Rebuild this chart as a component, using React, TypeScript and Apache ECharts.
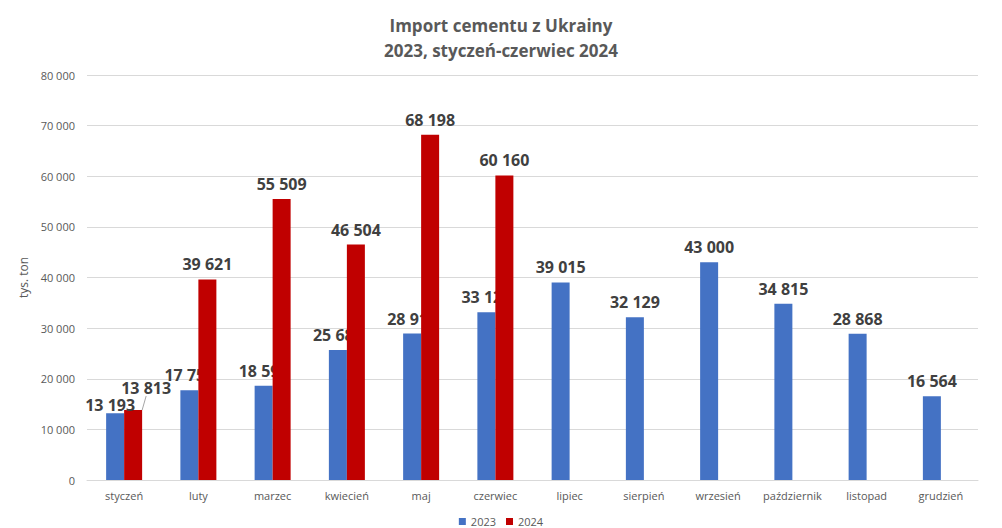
import React, { useEffect, useRef } from "react";
import * as echarts from "echarts";

const months = ["styczeń", "luty", "marzec", "kwiecień", "maj", "czerwiec", "lipiec", "sierpień", "wrzesień", "październik", "listopad", "grudzień"];
const values2023 = [13193, 17753, 18596, 25686, 28916, 33126, 39015, 32129, 43000, 34815, 28868, 16564];
const values2024: (number | null)[] = [13813, 39621, 55509, 46504, 68198, 60160, null, null, null, null, null, null];
const yTicks = { min: 0, max: 80000, interval: 10000 };

const fmt = (v: number) => String(Math.round(v)).replace(/\B(?=(\d{3})+(?!\d))/g, " ");

export default function App() {
  const ref = useRef<HTMLDivElement>(null);
  useEffect(() => {
    if (!ref.current) return;
    const chart = echarts.init(ref.current, null, { renderer: "svg" });
    const font = "'Open Sans', 'Liberation Sans', sans-serif";
    const labelStyle = {
      show: true,
      position: "top",
      distance: 7,
      fontSize: 16,
      fontWeight: "bold",
      color: "#404040",
      fontFamily: font,
    };
    chart.setOption({
      animation: false,
      textStyle: { fontFamily: font },
      title: {
        text: "Import cementu z Ukrainy\n2023, styczeń-czerwiec 2024",
        left: "center",
        top: 8,
        textStyle: { fontFamily: font, fontSize: 17, fontWeight: "bold", color: "#595959", lineHeight: 25 },
      },
      legend: {
        bottom: -4,
        left: "center",
        itemWidth: 7,
        itemHeight: 7,
        itemGap: 10,
        icon: "rect",
        textStyle: { fontFamily: font, fontSize: 11, color: "#595959" },
        data: ["2023", "2024"],
      },
      grid: { left: 87, right: 24, top: 75, bottom: 48 },
      xAxis: {
        type: "category",
        data: months,
        axisLine: { lineStyle: { color: "#d9d9d9" } },
        axisTick: { show: false },
        axisLabel: { color: "#595959", fontSize: 11, margin: 10, interval: 0, fontFamily: font },
      },
      yAxis: {
        type: "value",
        min: yTicks.min,
        max: yTicks.max,
        interval: yTicks.interval,
        name: "tys. ton",
        nameLocation: "middle",
        nameGap: 55,
        nameRotate: 90,
        nameTextStyle: { color: "#595959", fontSize: 12, fontFamily: font },
        axisLabel: { color: "#595959", fontSize: 11, margin: 12, formatter: (v: number) => fmt(v), fontFamily: font },
        splitLine: { lineStyle: { color: "#d9d9d9" } },
      },
      series: [
        {
          name: "2023",
          type: "bar",
          data: values2023,
          barWidth: 18,
          barGap: "0%",
          z: 2,
          itemStyle: { color: "#4472c4" },
          label: { ...labelStyle, formatter: (p: any) => (p.dataIndex === 0 ? "" : fmt(p.value)) },
        },
        {
          name: "2024",
          type: "bar",
          data: values2024.map((v, i) =>
            i === 0 ? { value: v, labelLine: { show: true, lineStyle: { color: "#a6a6a6", width: 1 } } } : v
          ),
          barWidth: 18,
          barGap: "0%",
          z: 3,
          itemStyle: { color: "#c00000" },
          label: { ...labelStyle, formatter: (p: any) => (p.value == null ? "" : fmt(p.value)) },
          labelLayout: (p: any) => (p.dataIndex === 0 ? { dx: 13, dy: -7 } : {}),
          labelLine: { show: false },
        },
        {
          name: "2023-label",
          type: "scatter",
          symbolSize: 0,
          z: 5,
          silent: true,
          itemStyle: { opacity: 1, color: "#4472c4" },
          data: [[months[0], values2023[0]]],
          label: { ...labelStyle, opacity: 1, formatter: (p: any) => fmt(p.value[1]) },
          labelLayout: { dx: -14, dy: 7 },
        },
      ],
    });
    return () => chart.dispose();
  }, []);
  return <div ref={ref} style={{ width: 1002, height: 528, position: "absolute", left: 0, top: 0, background: "#fff" }} />;
}
